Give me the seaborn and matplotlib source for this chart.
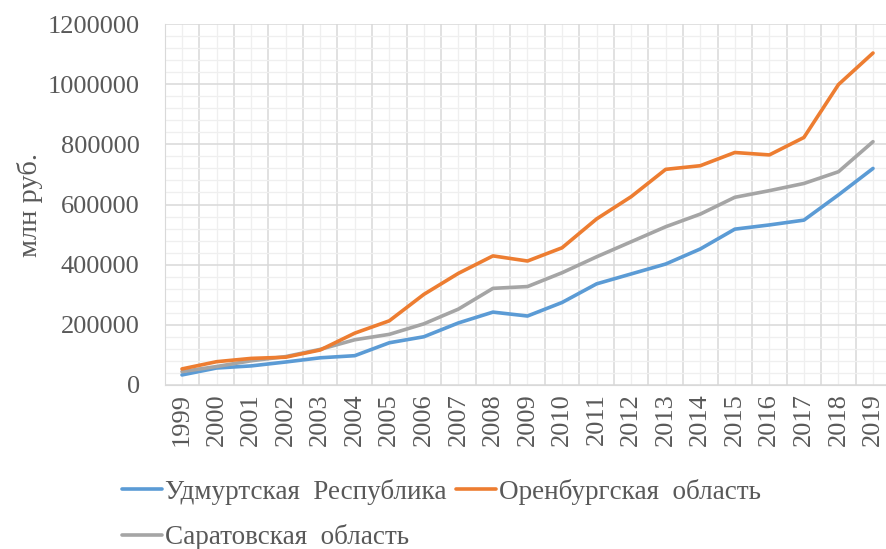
import numpy as np
import pandas as pd
import matplotlib.pyplot as plt
import seaborn as sns
from matplotlib.ticker import MultipleLocator, StrMethodFormatter

years = list(range(1999, 2020))
udmurtia = [33000, 56000, 63000, 76000, 90000, 97000, 140000, 160000, 206000, 242000, 229000,
            274000, 336000, 369000, 402000, 452000, 518000, 532000, 548000, 632000, 720000]
orenburg = [53000, 77000, 88000, 92000, 116000, 172000, 213000, 301000, 371000, 429000, 412000,
            456000, 552000, 626000, 717000, 729000, 773000, 765000, 823000, 999000, 1104000]
saratov = [44000, 61000, 80000, 94000, 118000, 150000, 168000, 203000, 252000, 321000, 327000,
           373000, 426000, 476000, 526000, 568000, 624000, 646000, 670000, 709000, 809000]

names = ["Удмуртская Республика", "Саратовская область", "Оренбургская область"]
colors = {"Удмуртская Республика": "#5B9BD5",
          "Оренбургская область": "#ED7D31",
          "Саратовская область": "#A5A5A5"}

df = pd.DataFrame({"year": years * 3,
                   "value": udmurtia + saratov + orenburg,
                   "region": [names[0]] * 21 + [names[1]] * 21 + [names[2]] * 21})

sns.set_style("white")
plt.rcParams["font.family"] = ["Liberation Serif", "DejaVu Serif"]
text_color = "#595959"
fs = 19

fig = plt.figure(figsize=(8.87, 5.49), dpi=100)
ax = fig.add_axes([0.1857, 0.299, 0.818, 0.657])

sns.lineplot(data=df, x="year", y="value", hue="region", hue_order=names,
             palette=colors, linewidth=2.6, ax=ax, legend=False)

ax.set_xlim(1998.5, 2019.5)
ax.set_ylim(0, 1200000)
ax.set_xticks(years)
ax.set_xticklabels([str(y) for y in years], rotation=90, fontsize=fs, color=text_color)
ax.xaxis.set_minor_locator(MultipleLocator(1, offset=0.5))
ax.yaxis.set_major_locator(MultipleLocator(200000))
ax.yaxis.set_minor_locator(MultipleLocator(40000))
ax.yaxis.set_major_formatter(StrMethodFormatter("{x:.0f}"))
ax.tick_params(axis="y", labelsize=fs, labelcolor=text_color, length=0, pad=18)
ax.tick_params(axis="x", length=0, pad=6, which="both")
ax.tick_params(axis="y", which="minor", length=0)

ax.grid(which="major", axis="y", color="#D9D9D9", linewidth=1.1)
ax.grid(which="minor", axis="y", color="#EFEFEF", linewidth=0.9)
ax.grid(which="minor", axis="x", color="#D9D9D9", linewidth=1.1)
ax.grid(which="major", axis="x", color="#EFEFEF", linewidth=0.9)
ax.set_axisbelow(True)

for side in ["top", "right"]:
    ax.spines[side].set_visible(False)
ax.spines["left"].set_color("#D9D9D9")
ax.spines["bottom"].set_color("#D9D9D9")

ax.set_xlabel("")
ax.set_ylabel("млн руб.", fontsize=20.5, color=text_color, labelpad=3)

labels = [n.replace(" ", "  ") for n in names]
handles = [plt.Line2D([], [], color=colors[n], linewidth=2.6) for n in names]
leg = fig.legend(handles, labels, loc="upper left", bbox_to_anchor=(0.1375, 0.128),
                 ncol=2, frameon=False, fontsize=19.5, handlelength=1.48,
                 handletextpad=0.1, columnspacing=0.37, labelspacing=0.72,
                 borderpad=0, borderaxespad=0)
for t in leg.get_texts():
    t.set_color(text_color)

fig.savefig("out.png", dpi=100)
